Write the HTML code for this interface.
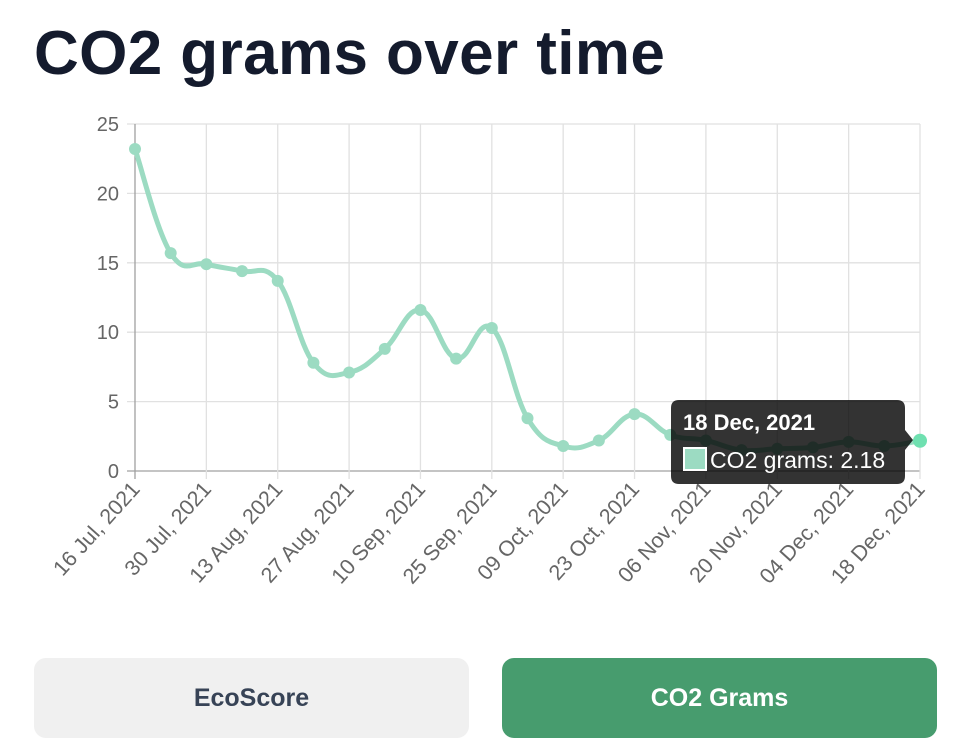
<!DOCTYPE html>
<html><head><meta charset="utf-8"><style>
body{margin:0;width:966px;height:756px;background:#fff;font-family:"Liberation Sans",sans-serif;overflow:hidden;position:relative}
h1{position:absolute;left:34px;top:18px;margin:0;font-size:62px;font-weight:bold;color:#141b2d;letter-spacing:0.4px}
.btn{position:absolute;top:658px;height:80px;width:435px;border-radius:12px;display:flex;align-items:center;justify-content:center;font-weight:bold;font-size:25px}
</style></head><body>
<h1>CO2 grams over time</h1>
<svg id="chart" width="966" height="640" style="position:absolute;left:0;top:0"></svg>
<div class="btn" style="left:34px;background:#f0f0f0;color:#374356">EcoScore</div>
<div class="btn" style="left:502px;background:#479c6e;color:#fff">CO2 Grams</div>
<script>
const labels=["16 Jul, 2021","30 Jul, 2021","13 Aug, 2021","27 Aug, 2021","10 Sep, 2021","25 Sep, 2021","09 Oct, 2021","23 Oct, 2021","06 Nov, 2021","20 Nov, 2021","04 Dec, 2021","18 Dec, 2021"];
const values=[23.2,15.7,14.9,14.4,13.7,7.8,7.1,8.8,11.6,8.1,10.3,3.8,1.8,2.2,4.1,2.6,2.2,1.5,1.6,1.7,2.1,1.8,2.18];
const yTicks=[0,5,10,15,20,25];
const NS="http://www.w3.org/2000/svg";
const svg=document.getElementById('chart');
const X0=135,X1=920,Y0=471,Y1=124;
const xs=i=>X0+(X1-X0)*i/(values.length-1);
const ys=v=>Y0-(Y0-Y1)*v/25;
function el(t,a,p){const e=document.createElementNS(NS,t);for(const k in a)e.setAttribute(k,a[k]);(p||svg).appendChild(e);return e;}
yTicks.forEach(t=>{
  const g=el('line',{x1:X0-8,x2:X1,y1:ys(t),y2:ys(t),stroke:t===0?'#a0a0a0':'#e1e1e1','stroke-width':1.3});
  
  
  const tx=el('text',{x:X0-16,y:ys(t)+7,'text-anchor':'end','font-size':20,fill:'#666'});
  tx.textContent=t;
  
  
});
labels.forEach((l,i)=>{
  const x=X0+(X1-X0)*i/(labels.length-1);
  const g=el('line',{x1:x,x2:x,y1:Y1,y2:Y0+8,stroke:i===0?'#a0a0a0':'#e1e1e1','stroke-width':1.3});
  
  
  const tx=el('text',{x:0,y:0,'text-anchor':'end','font-size':21.5,fill:'#666',transform:`translate(${x+6},${Y0+19}) rotate(-48)`});
  tx.textContent=l;
  
  
});
const pts=values.map((v,i)=>[xs(i),ys(v)]);
let d=`M${pts[0][0]},${pts[0][1]}`;const t=0.4;
for(let i=0;i<pts.length-1;i++){
  const p0=pts[Math.max(0,i-1)],p1=pts[i],p2=pts[i+1],p3=pts[Math.min(pts.length-1,i+2)];
  const c1=[p1[0]+(p2[0]-p0[0])*t/2,p1[1]+(p2[1]-p0[1])*t/2];
  const c2=[p2[0]-(p3[0]-p1[0])*t/2,p2[1]-(p3[1]-p1[1])*t/2];
  d+=`C${c1[0]},${c1[1]} ${c2[0]},${c2[1]} ${p2[0]},${p2[1]}`;
}
const line=el('path',{d:d,fill:'none',stroke:'#9cdbc2','stroke-width':5,'stroke-linejoin':'round'});


pts.forEach((p,i)=>{
  const c=el('circle',{cx:p[0],cy:p[1],r:i===pts.length-1?7:6,fill:i===pts.length-1?'#6fe0b0':'#9cdbc2'});
  
  
});
const tg=el('g',{});


el('path',{d:'M679,400 H897 Q905,400 905,408 V430 L913,440 L905,450 V476 Q905,484 897,484 H679 Q671,484 671,476 V408 Q671,400 679,400 Z',fill:'rgba(0,0,0,0.8)'},tg);
const tt=el('text',{x:683,y:430,'font-size':22,'font-weight':'bold',fill:'#fff'},tg);tt.textContent=labels[labels.length-1];
el('rect',{x:684,y:448,width:22,height:22,fill:'#9cdbc2',stroke:'#fff','stroke-width':2},tg);
const tv=el('text',{x:710,y:468,'font-size':23,fill:'#fff'},tg);tv.textContent='CO2 grams: '+values[values.length-1];
</script>
</body></html>
